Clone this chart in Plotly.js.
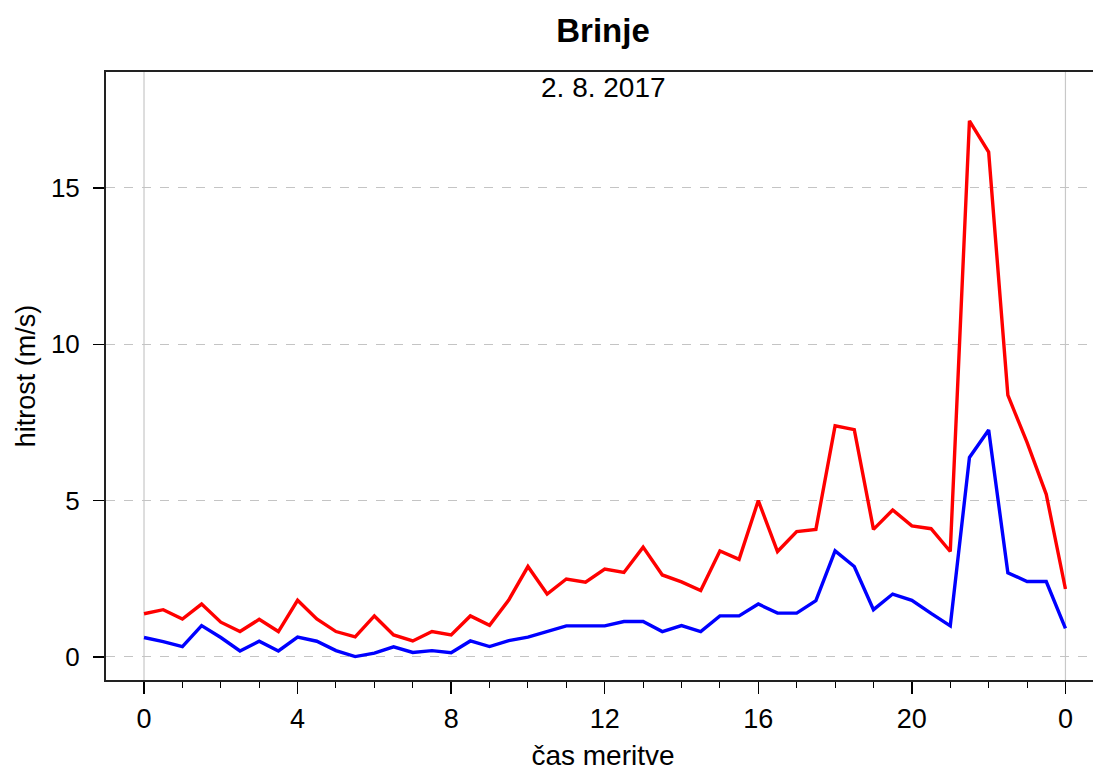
<!DOCTYPE html>
<html>
<head>
<meta charset="utf-8">
<script src="https://cdn.plot.ly/plotly-3.0.1.min.js"></script>
<style>html,body{margin:0;padding:0;background:#fff;overflow:hidden;}#chart{width:1100px;height:774px;}</style>
</head>
<body>
<div id="chart"></div>
<script>
// half-hour measurement times (hours)
const hours = [0,0.5,1,1.5,2,2.5,3,3.5,4,4.5,5,5.5,6,6.5,7,7.5,8,8.5,9,9.5,10,10.5,11,11.5,12,12.5,13,13.5,14,14.5,15,15.5,16,16.5,17,17.5,18,18.5,19,19.5,20,20.5,21,21.5,22,22.5,23,23.5,24];
// maximum wind speed (red)
const maxSpeed = [1.38,1.51,1.21,1.69,1.11,0.81,1.2,0.81,1.81,1.21,0.81,0.64,1.31,0.7,0.51,0.81,0.7,1.31,1.01,1.82,2.89,2.01,2.49,2.39,2.81,2.7,3.51,2.62,2.4,2.12,3.39,3.12,5.0,3.37,4.01,4.08,7.39,7.27,4.08,4.7,4.19,4.1,3.37,17.15,16.15,8.37,6.86,5.2,2.17];
// average wind speed (blue)
const avgSpeed = [0.62,0.49,0.33,1.0,0.62,0.19,0.5,0.19,0.63,0.5,0.2,0.01,0.12,0.32,0.14,0.2,0.13,0.51,0.33,0.52,0.63,0.81,0.99,0.99,0.99,1.13,1.13,0.81,1.0,0.81,1.31,1.31,1.69,1.4,1.4,1.8,3.39,2.89,1.51,2.01,1.81,1.39,0.99,6.38,7.26,2.69,2.41,2.41,0.91];
const xTickVals = [0,4,8,12,16,20,24];
const xTickText = ['0','4','8','12','16','20','0'];
const yTickVals = [0,5,10,15];

const traces = [
  {x: hours, y: maxSpeed, type:'scatter', mode:'lines', line:{color:'#ff0000', width:3.4}, hoverinfo:'x+y'},
  {x: hours, y: avgSpeed, type:'scatter', mode:'lines', line:{color:'#0000ff', width:3.4}, hoverinfo:'x+y'}
];

const layout = {
  width:1100, height:774,
  margin:{l:106, r:0, t:72, b:94},
  paper_bgcolor:'#fff', plot_bgcolor:'#fff',
  showlegend:false,
  font:{family:'Liberation Sans, Arial, sans-serif', color:'#000'},
  title:{text:'<b>Brinje</b>', font:{size:33, family:'Liberation Sans, Arial, sans-serif', color:'#000'}, x:0.5, xref:'paper', y:0.961, yref:'container', yanchor:'middle'},
  xaxis:{
    range:[-0.99, 24.9], tickmode:'array', tickvals:xTickVals, ticktext:xTickText,
    ticks:'outside', ticklen:12, tickwidth:1.5, tickcolor:'#000',
    minor:{dtick:1, tick0:0, ticks:'outside', ticklen:6, tickwidth:1, tickcolor:'#000', showgrid:false},
    showgrid:false, zeroline:false, showline:true, linecolor:'#222', linewidth:2, mirror:true,
    tickfont:{size:27, color:'#000'}, ticklabelstandoff:2,
    title:{text:'čas meritve', font:{size:28, color:'#000'}, standoff:12}
  },
  yaxis:{
    range:[-0.74, 18.71], tickmode:'array', tickvals:yTickVals,
    ticks:'outside', ticklen:11, tickwidth:1.5, tickcolor:'#000',
    showgrid:true, gridcolor:'#c4c4c4', griddash:'dash', gridwidth:1,
    zeroline:false, showline:true, linecolor:'#222', linewidth:2, mirror:false,
    tickfont:{size:26, color:'#000'}, ticklabelstandoff:8,
    title:{text:'hitrost (m/s)', font:{size:27, color:'#000'}, standoff:7}
  },
  shapes:[
    {type:'line', xref:'x', yref:'paper', x0:0, x1:0, y0:0, y1:1, line:{color:'#c8c8c8', width:1.2}, layer:'below'},
    {type:'line', xref:'x', yref:'paper', x0:24, x1:24, y0:0, y1:1, line:{color:'#c8c8c8', width:1.2}, layer:'below'}
  ],
  annotations:[
    {text:'2. 8. 2017', xref:'paper', yref:'paper', x:0.5, y:0.974, xanchor:'center', yanchor:'middle', showarrow:false, font:{size:28, color:'#000'}}
  ]
};
Plotly.newPlot('chart', traces, layout, {displayModeBar:false, staticPlot:true});
</script>
</body>
</html>
